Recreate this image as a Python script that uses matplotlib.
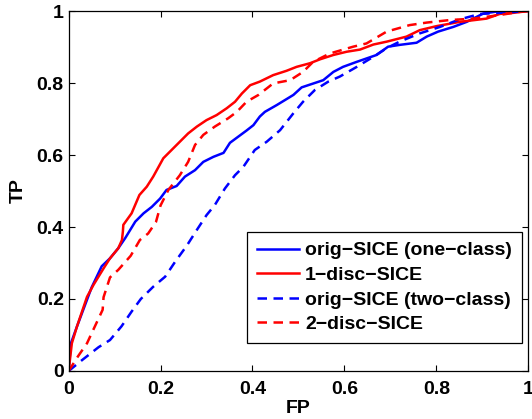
import matplotlib
matplotlib.use("Agg")
import matplotlib.pyplot as plt

# ROC curves
fp_one = [0, 0.005, 0.018, 0.05, 0.072, 0.09, 0.108, 0.123, 0.145, 0.163, 0.181, 0.199,
          0.213, 0.235, 0.253, 0.275, 0.293, 0.315, 0.337, 0.351, 0.369, 0.387, 0.402,
          0.416, 0.427, 0.453, 0.489, 0.507, 0.554, 0.576, 0.597, 0.627, 0.67, 0.695,
          0.72, 0.757, 0.779, 0.804, 0.837, 0.866, 0.902, 0.938, 1.0]
tp_one = [0, 0.077, 0.123, 0.232, 0.291, 0.313, 0.341, 0.369, 0.415, 0.438, 0.456, 0.479,
          0.503, 0.514, 0.54, 0.558, 0.581, 0.595, 0.606, 0.634, 0.651, 0.668, 0.683,
          0.707, 0.72, 0.739, 0.767, 0.788, 0.808, 0.831, 0.845, 0.859, 0.878, 0.901,
          0.906, 0.912, 0.929, 0.943, 0.956, 0.97, 0.993, 1.0, 1.0]

fp_disc1 = [0, 0.007, 0.018, 0.04, 0.054, 0.076, 0.09, 0.108, 0.116, 0.118, 0.119, 0.137,
            0.154, 0.17, 0.184, 0.206, 0.224, 0.242, 0.26, 0.279, 0.3, 0.322, 0.344,
            0.362, 0.377, 0.395, 0.416, 0.445, 0.474, 0.496, 0.525, 0.547, 0.576, 0.605,
            0.634, 0.663, 0.692, 0.735, 0.764, 0.8, 0.851, 0.909, 0.938, 0.967, 1.0]
tp_disc1 = [0, 0.077, 0.123, 0.206, 0.239, 0.285, 0.313, 0.341, 0.364, 0.387, 0.406, 0.438,
            0.489, 0.512, 0.54, 0.591, 0.614, 0.637, 0.66, 0.679, 0.697, 0.711, 0.73,
            0.748, 0.771, 0.794, 0.804, 0.822, 0.834, 0.845, 0.855, 0.866, 0.878, 0.887,
            0.893, 0.907, 0.915, 0.929, 0.947, 0.958, 0.97, 0.979, 0.992, 0.995, 1.0]

fp_two = [0, 0.03, 0.065, 0.09, 0.115, 0.137, 0.157, 0.184, 0.21, 0.232, 0.257, 0.279,
          0.3, 0.318, 0.34, 0.362, 0.38, 0.405, 0.431, 0.46, 0.489, 0.51, 0.536, 0.565,
          0.59, 0.627, 0.663, 0.692, 0.72, 0.764, 0.808, 0.851, 0.895, 0.938, 1.0]
tp_two = [0, 0.031, 0.066, 0.086, 0.124, 0.165, 0.2, 0.234, 0.262, 0.304, 0.348, 0.392,
          0.433, 0.461, 0.507, 0.544, 0.567, 0.614, 0.637, 0.669, 0.716, 0.748, 0.781, 0.804,
          0.818, 0.845, 0.873, 0.897, 0.915, 0.938, 0.956, 0.977, 0.992, 0.995, 1.0]

fp_disc2 = [0, 0.02, 0.04, 0.052, 0.074, 0.076, 0.09, 0.108, 0.135, 0.155, 0.173, 0.19,
            0.2, 0.217, 0.242, 0.26, 0.275, 0.293, 0.318, 0.347, 0.366, 0.387, 0.413,
            0.445, 0.482, 0.51, 0.532, 0.568, 0.619, 0.648, 0.692, 0.742, 0.779, 0.829,
            0.88, 0.938, 0.982, 1.0]
tp_disc2 = [0, 0.04, 0.077, 0.11, 0.17, 0.205, 0.26, 0.281, 0.32, 0.364, 0.382, 0.414,
            0.46, 0.503, 0.544, 0.581, 0.628, 0.656, 0.679, 0.702, 0.72, 0.748, 0.767,
            0.799, 0.808, 0.831, 0.859, 0.882, 0.901, 0.91, 0.943, 0.961, 0.968, 0.975,
            0.979, 0.989, 0.998, 1.0]

labels = ["orig\u2212SICE (one\u2212class)", "1\u2212disc\u2212SICE",
          "orig\u2212SICE (two\u2212class)", "2\u2212disc\u2212SICE"]
ticks = [0, 0.2, 0.4, 0.6, 0.8, 1]
tick_labels = ["0", "0.2", "0.4", "0.6", "0.8", "1"]

plt.rcParams["font.family"] = ["Liberation Sans", "DejaVu Sans"]
plt.rcParams["font.weight"] = "bold"

fig = plt.figure(figsize=(5.32, 4.19), dpi=100)
ax = fig.add_axes([0.129, 0.1146, 0.864, 0.859])

lw = 1.8
ax.plot(fp_one, tp_one, color="blue", lw=lw, label=labels[0])
ax.plot(fp_disc1, tp_disc1, color="red", lw=lw, label=labels[1])
ax.plot(fp_two, tp_two, color="blue", lw=lw, ls=(0, (3.8, 2.6)), label=labels[2])
ax.plot(fp_disc2, tp_disc2, color="red", lw=lw, ls=(0, (3.8, 2.6)), label=labels[3])

ax.set_xlim(0, 1)
ax.set_ylim(0, 1)
ax.set_xticks(ticks)
ax.set_xticklabels(tick_labels)
ax.set_yticks(ticks)
ax.set_yticklabels(tick_labels)
ax.tick_params(direction="in", length=4.3, width=0.8, top=True, right=True,
               labelsize=14)
ax.tick_params(axis="x", pad=7)
ax.tick_params(axis="y", pad=3.5)
for s in ax.spines.values():
    s.set_linewidth(0.9)

ax.set_xlabel("FP", fontsize=14, fontweight="bold", labelpad=2)
ax.set_ylabel("TP", fontsize=14, fontweight="bold", labelpad=7)

leg = ax.legend(loc="lower right", bbox_to_anchor=(0.986, 0.078), fontsize=14,
                handlelength=2.2, handletextpad=0.3, labelspacing=0.36,
                borderpad=0.5, borderaxespad=0, fancybox=False, framealpha=1,
                edgecolor="black")
leg.get_frame().set_linewidth(0.9)

fig.savefig("out.png", dpi=100)
